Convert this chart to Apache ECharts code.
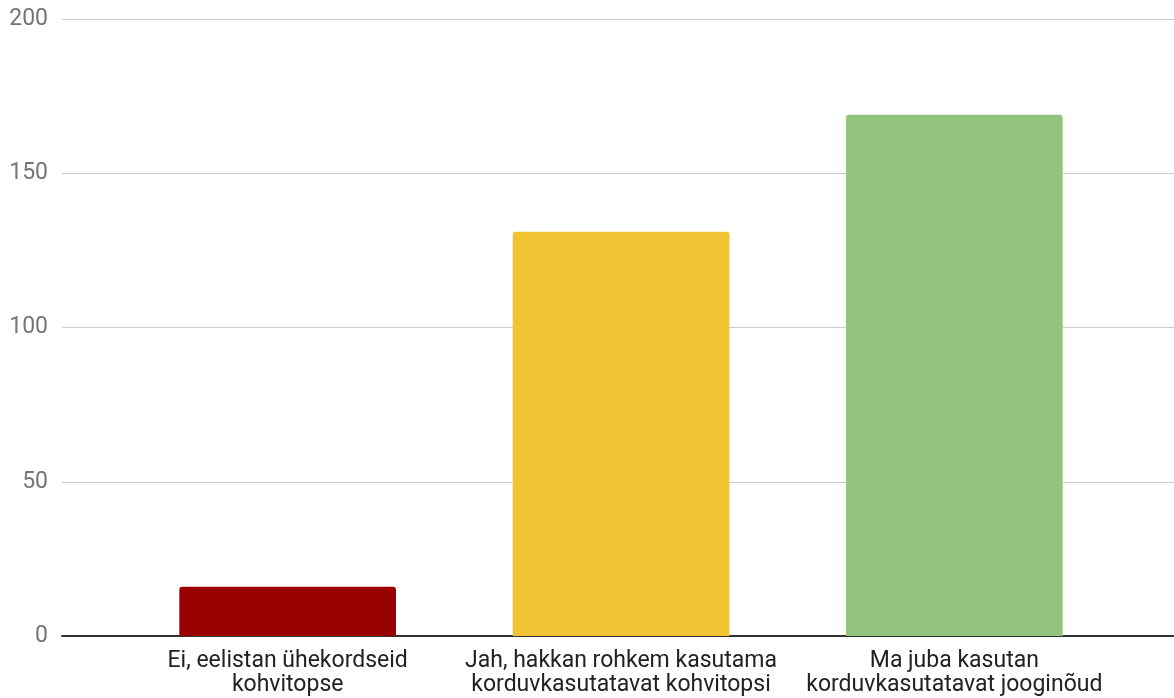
<!DOCTYPE html>
<html>
<head>
<meta charset="utf-8">
<script src="https://cdn.jsdelivr.net/npm/echarts@6/dist/echarts.min.js"></script>
<style>html,body{margin:0;padding:0;background:#fff}#c{width:1174px;height:698px}</style>
</head>
<body>
<div id="c"></div>
<script>
const categories = ["Ei, eelistan ühekordseid\nkohvitopse", "Jah, hakkan rohkem kasutama\nkorduvkasutatavat kohvitopsi", "Ma juba kasutan\nkorduvkasutatavat jooginõud"];
const values = [16, 131, 169];
const colors = ["#990000", "#f1c232", "#93c47d"];
const yTicks = { min: 0, max: 200, interval: 50 };

const chart = echarts.init(document.getElementById('c'), null, { renderer: 'canvas' });
chart.setOption({
  animation: false,
  grid: [
    { left: 121, right: 53, top: 19, bottom: 62 },
    { left: 62, right: 0, top: 19, bottom: 62 }
  ],
  xAxis: [
    {
      type: 'category', gridIndex: 0, data: categories,
      axisLine: { show: false }, axisTick: { show: false },
      axisLabel: { color: '#222', fontFamily: 'Roboto', fontSize: 23, lineHeight: 24, margin: 13, interval: 0 }
    },
    {
      type: 'value', gridIndex: 1, min: 0, max: 1,
      axisLine: { show: true, lineStyle: { color: '#333', width: 2 } },
      axisTick: { show: false }, axisLabel: { show: false }, splitLine: { show: false }
    }
  ],
  yAxis: [
    { type: 'value', gridIndex: 0, min: yTicks.min, max: yTicks.max, interval: yTicks.interval, show: false, splitLine: { show: false } },
    {
      type: 'value', gridIndex: 1, min: yTicks.min, max: yTicks.max, interval: yTicks.interval,
      axisLine: { show: false }, axisTick: { show: false },
      axisLabel: { color: '#757575', fontFamily: 'Roboto', fontSize: 23, margin: 14 },
      splitLine: { lineStyle: { color: '#cccccc', width: 1 } }
    }
  ],
  series: [{
    type: 'bar', xAxisIndex: 0, yAxisIndex: 0, barWidth: '65%',
    data: values.map((v, i) => ({ value: v, itemStyle: { color: colors[i], borderRadius: [3, 3, 0, 0] } })),
    z: 1
  }]
});
</script>
</body>
</html>
